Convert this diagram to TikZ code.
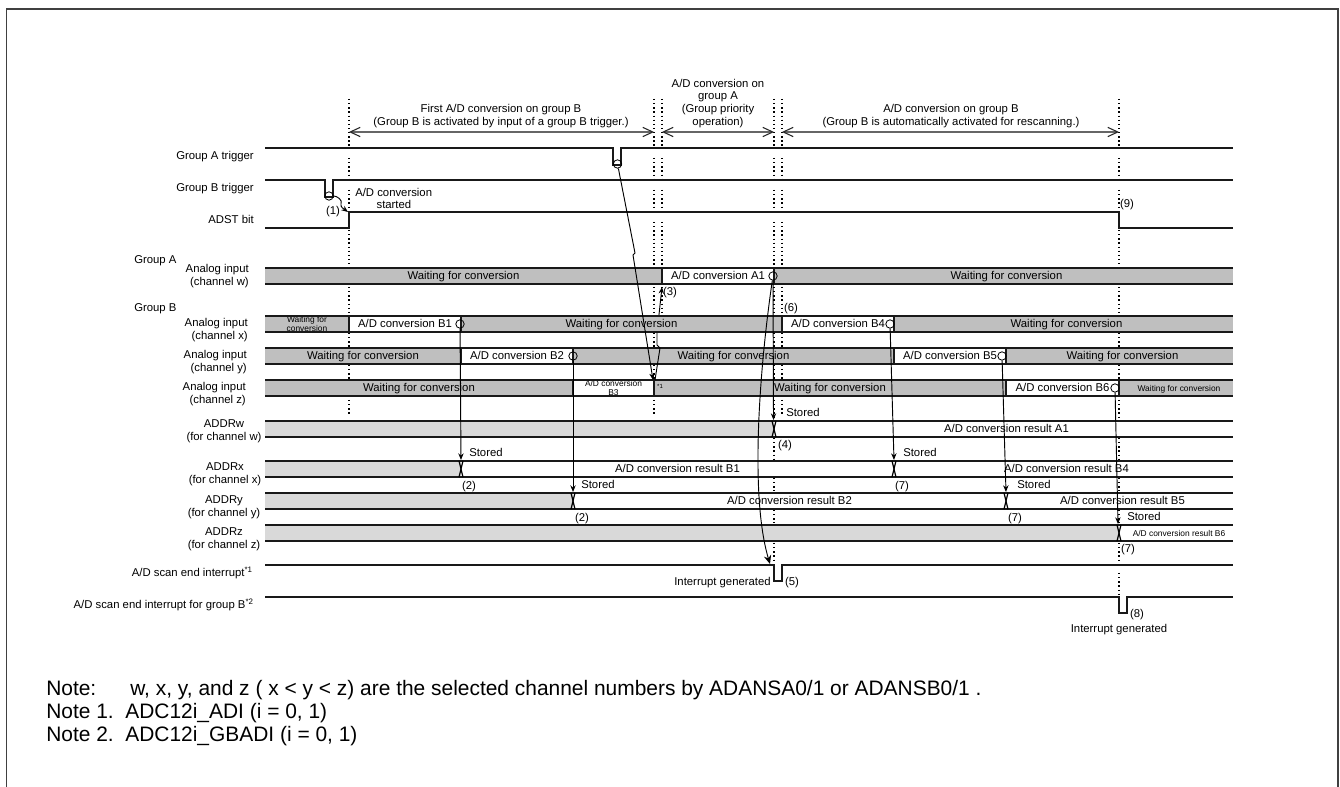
\documentclass[tikz,border=0pt]{standalone}
\usepackage{fontspec}
\setmainfont{Liberation Sans}
\usepackage{xcolor}
\definecolor{waitgray}{HTML}{BFBFBF}
\definecolor{regray}{HTML}{D9D9D9}
\usepackage{tikz}
\usetikzlibrary{positioning,arrows.meta}
\tikzset{
  x=.75pt, y=-.75pt,
  seg/.style  ={minimum width=#1*.75pt},
  rowbox/.style={rectangle, draw=none, minimum height=12.2pt, inner sep=0pt,
                outer sep=0pt, align=center, text height=6.3pt, text depth=1.4pt,
                font=\fontsize{8.5}{9}\selectfont},
  wbox/.style ={rowbox, fill=waitgray},
  cbox/.style ={rowbox, fill=white},
  rbox/.style ={rowbox, fill=regray},
  sig/.style  ={line width=1pt, black!90},
  edge/.style ={line width=1.4pt, black!90},
  dots/.style ={line width=.8pt, dash pattern=on 1pt off 2.1pt},
  arr/.style  ={-{Stealth[length=5pt,width=4pt]}, line width=.7pt},
  arrbig/.style={-{Stealth[length=6.5pt,width=5.5pt]}, line width=.7pt},
  span/.style ={{Straight Barb[length=7.5pt,width=7pt,color=black!85]}-{Straight Barb[length=7.5pt,width=7pt,color=black!85]},
                line width=.8pt, black!60},
  ring/.style ={circle, draw, line width=.6pt, minimum size=6.3pt, inner sep=0pt, fill=none},
  lbl/.style  ={inner sep=0pt, align=center, font=\fontsize{8.5}{9.7}\selectfont},
  lblr/.style ={lbl, align=right, anchor=east},
  lbll/.style ={lbl, anchor=west},
  tinybox/.style={font=\fontsize{6.3}{6.9}\selectfont},
  twoline/.style={tinybox, text height=, text depth=},
  notetext/.style={inner sep=0pt, anchor=base west, font=\fontsize{15.7}{18}\selectfont},
}

\begin{document}
\begin{tikzpicture}
  \useasboundingbox (0,0) rectangle (1340,787);
  % frame, open at the bottom
  \draw[line width=1pt, black!75] (6.5,787) -- (6.5,9) -- (1338,9) -- (1338,787);

  % dotted time marks
  \draw[dots] (349,99) -- (349,147) (349,158) -- (349,179) (349,190) -- (349,210) (349,230) -- (349,267)
              (349,287) -- (349,316) (349,333) -- (349,347) (349,365) -- (349,380) (349,400) -- (349,416);
  \draw[dots] (654,99) -- (654,147) (654,158) -- (654,179) (654,190) -- (654,210) (654,222) -- (654,267)
              (654,287) -- (654,316) (654,333) -- (654,347) (654,365) -- (654,380) (654,400) -- (654,416);
  \draw[dots] (662,99) -- (662,147) (662,158) -- (662,179) (662,190) -- (662,210) (662,222) -- (662,267)
              (662,287) -- (662,316);
  \draw[dots] (774,99) -- (774,147) (774,158) -- (774,179) (774,190) -- (774,210) (774,222) -- (774,267)
              (774,287) -- (774,316) (774,333) -- (774,347) (774,365) -- (774,380) (774,400) -- (774,419)
              (774,438) -- (774,459) (774,478) -- (774,491) (774,510) -- (774,523) (774,543) -- (774,563);
  \draw[dots] (782,99) -- (782,147) (782,158) -- (782,179) (782,190) -- (782,210) (782,222) -- (782,267)
              (782,287) -- (782,316) (782,333) -- (782,347) (782,365) -- (782,380) (782,400) -- (782,416);
  \draw[dots] (1119,99) -- (1119,147) (1119,158) -- (1119,179) (1119,190) -- (1119,210) (1119,230) -- (1119,267)
              (1119,287) -- (1119,316) (1119,333) -- (1119,347) (1119,365) -- (1119,380) (1119,400) -- (1119,419)
              (1119,438) -- (1119,459) (1119,478) -- (1119,491) (1119,510) -- (1119,523) (1119,543) -- (1119,563)
              (1119,573) -- (1119,596);

  % period headings
  \coordinate (p1l) at (349,132);
  \coordinate (p1r) at (654,132);
  \coordinate (p2l) at (662,132);
  \coordinate (p2r) at (774,132);
  \coordinate (p3l) at (782,132);
  \coordinate (p3r) at (1119,132);
  \draw[span] (p1l) -- (p1r);
  \draw[span] (p2l) -- (p2r);
  \draw[span] (p3l) -- (p3r);
  \node[lbl] (h1) at (501,116.5) {First A/D conversion on group B\\(Group B is activated by input of a group B trigger.)};
  \node[lbl] (h2) at (718,103.5) {A/D conversion on\\group A\\(Group priority\\operation)};
  \node[lbl] (h3) at (951,116.5) {A/D conversion on group B\\(Group B is automatically activated for rescanning.)};

  % trigger and ADST levels
  \draw[sig] (265,148) -- (613,148) -- (613,165) -- (621,165) -- (621,148) -- (1233,148);
  \draw[sig] (265,180) -- (325,180) -- (325,197) -- (333,197) -- (333,180) -- (1233,180);
  \draw[sig] (265,228) -- (349,228) -- (349,212) -- (1119,212) -- (1119,228) -- (1233,228);
  \node[lblr] (lAt) at (254,156.5) {Group A trigger};
  \node[lblr] (lBt) at (254,188.5) {Group B trigger};
  \node[lblr] (lAd) at (254,219) {ADST bit};
  \node[lbl, align=left, anchor=north west] (lst) at (355,188) {A/D conversion\\[-1pt]\hspace*{16pt}started};
  \node[lbl] (n1) at (333,212) {(1)};
  \node[lbl] (n9) at (1127,205) {(9)};

  % lead-in of the group A start, runs behind the rows
  \coordinate (a1st) at (662,287);
  \coordinate (jog1) at (660,348);
  \coordinate (jog2) at (657,345);
  \coordinate (jog3) at (657,333);
  \draw[arr] (jog3) -- (a1st);

  % analog input, group A
  \node[lbll] (lGA) at (134,261) {Group A};
  \node[lblr] (lw) at (249,276.5) {Analog input\\(channel w)};
  \node[wbox, seg=397, anchor=west] (w0) at (265,276) {Waiting for conversion};
  \node[cbox, seg=112, right=0mm of w0] (w1) {A/D conversion A1};
  \node[wbox, seg=459, right=0mm of w1] (w2) {\hspace*{4.5pt}Waiting for conversion};

  % analog input, group B
  \node[lbll] (lGB) at (134,309) {Group B};
  \node[lblr] (lx) at (248,330.5) {Analog input\\(channel x)};
  \node[wbox, twoline, seg=84, anchor=west] (x0) at (265,324) {Waiting for\\conversion};
  \node[cbox, seg=112, right=0mm of x0] (x1) {A/D conversion B1};
  \node[wbox, seg=321, right=0mm of x1] (x2) {Waiting for conversion};
  \node[cbox, seg=112, right=0mm of x2] (x3) {A/D conversion B4};
  \node[wbox, seg=339, right=0mm of x3] (x4) {\hspace*{4.5pt}Waiting for conversion};

  \node[lblr] (ly) at (247,362.5) {Analog input\\(channel y)};
  \node[wbox, seg=196, anchor=west] (y0) at (265,356) {Waiting for conversion};
  \node[cbox, seg=112, right=0mm of y0] (y1) {A/D conversion B2};
  \node[wbox, seg=321, right=0mm of y1] (y2) {Waiting for conversion};
  \node[cbox, seg=112, right=0mm of y2] (y3) {A/D conversion B5};
  \node[wbox, seg=227, right=0mm of y3] (y4) {\hspace*{4.5pt}Waiting for conversion};

  \node[lblr] (lz) at (246,394) {Analog input\\(channel z)};
  \node[wbox, seg=308, anchor=west] (z0) at (265,388) {Waiting for conversion};
  \node[cbox, twoline, seg=81, right=0mm of z0] (z1) {A/D conversion\\B3};
  \node[wbox, seg=352, right=0mm of z1] (z2) {Waiting for conversion};
  \node[cbox, seg=113, right=0mm of z2] (z3) {A/D conversion B6};
  \node[wbox, tinybox, seg=114, right=0mm of z3] (z4) {\hspace*{4.5pt}Waiting for conversion};
  \node[inner sep=0pt, font=\fontsize{4.5}{5}\selectfont] (zs) at (660,386) {*1};

  % result registers
  \node[lbl] (la) at (224,431.7) {ADDRw\\(for channel w)};
  \node[rbox, seg=509, anchor=west] (a0) at (265,429) {};
  \node[cbox, seg=459, right=0mm of a0] (a1) {\hspace*{4.5pt}A/D conversion result A1};
  \node[lbl] (lb) at (225,474.2) {ADDRx\\(for channel x)};
  \node[rbox, seg=196, anchor=west] (b0) at (265,469) {};
  \node[cbox, seg=433, right=0mm of b0] (b1) {A/D conversion result B1};
  \node[cbox, seg=339, right=0mm of b1] (b2) {\hspace*{4.5pt}A/D conversion result B4};
  \node[lbl] (lc) at (224,507) {ADDRy\\(for channel y)};
  \node[rbox, seg=308, anchor=west] (c0) at (265,501) {};
  \node[cbox, seg=433, right=0mm of c0] (c1) {A/D conversion result B2};
  \node[cbox, seg=227, right=0mm of c1] (c2) {\hspace*{4.5pt}A/D conversion result B5};
  \node[lbl] (ld) at (224,539.7) {ADDRz\\(for channel z)};
  \node[rbox, seg=854, anchor=west] (d0) at (265,533) {};
  \node[cbox, tinybox, seg=114, right=0mm of d0] (d1) {\hspace*{4.5pt}A/D conversion result B6};

  % row edges
  \foreach \first/\last in {w0/w2,x0/x4,y0/y4,z0/z4,a0/a1,b0/b2,c0/c2,d0/d1}{
    \draw[sig] (\first.north west) -- (\last.north east);
    \draw[sig] (\first.south west) -- (\last.south east);
  }
  \foreach \seg in {w0,w1,x0,x1,x2,x3,y0,y1,y2,y3,z0,z1,z2,z3}
    \draw[edge] (\seg.north east) -- (\seg.south east);

  % value changes of the registers
  \foreach \seg in {a0,b0,b1,c0,c1,d0}{
    \draw[line width=.9pt] ([xshift=-1.5pt]\seg.north east) -- ([xshift=1.5pt]\seg.south east);
    \draw[line width=.9pt] ([xshift=1.5pt]\seg.north east) -- ([xshift=-1.5pt]\seg.south east);
  }

  % interrupt levels
  \draw[sig] (265,565) -- (774,565) -- (774,581) -- (782,581) -- (782,565) -- (1233,565);
  \draw[sig] (265,597) -- (1119,597) -- (1119,613) -- (1127,613) -- (1127,597) -- (1233,597);
  \node[lblr] (li1) at (253,573) {A/D scan end interrupt\textsuperscript{*1}};
  \node[lblr] (li2) at (254,605) {A/D scan end interrupt for group B\textsuperscript{*2}};
  \node[lblr] (ig1) at (771,583) {Interrupt generated};
  \node[lbl] (ig2) at (1119,630) {Interrupt generated};
  \node[lbl] (n5) at (792,582.5) {(5)};
  \node[lbl] (n8) at (1137,614.5) {(8)};

  % event marks
  \node[ring] (rB) at (329,196) {};
  \node[ring] (rA) at (617.5,164) {};
  \node[ring] (r1) at (460,324) {};
  \node[ring] (r2) at (573,356) {};
  \node[ring] (rA1) at (773,276) {};
  \node[ring] (r4) at (890,324) {};
  \node[ring] (r5) at (1002,356) {};
  \node[ring] (r6) at (1115,388) {};

  \coordinate (adst) at (348,212);
  \coordinate (b3end) at (653,380);
  \coordinate (kink1) at (635,253);
  \coordinate (kink2) at (633,255);
  \coordinate (b3go) at (655,380);
  \coordinate (stw) at (773.5,420);
  \coordinate (stx) at (461,460);
  \coordinate (sty) at (573,492);
  \coordinate (stx2) at (894,460);
  \coordinate (sty2) at (1006,492);
  \coordinate (stz) at (1118,524);
  \coordinate (irq) at (770,564);
  \coordinate (wig) at (341,204);

  % transfers
  \draw[arr] (rB.east) .. controls (337,196) and (343,200) .. (wig) .. controls (340,207) and (344,209) .. (adst);
  \draw[arr] (rA) -- (kink1) -- (kink2) -- (b3end);
  \draw[line width=.7pt] (b3go) -- (jog1) -- (jog2) -- (jog3);
  \draw[arr] (r1) -- (stx);
  \draw[arr] (r2) -- (sty);
  \draw[arr] (r4) -- (stx2);
  \draw[arr] (r5) -- (sty2);
  \draw[arr] (r6) -- (stz);
  \draw[arr] (rA1) -- (stw);
  \draw[arrbig] (rA1) .. controls (762,350) and (748,490) .. (irq);

  % stored marks
  \node[lbl] (n3) at (670,292.5) {(3)};
  \node[lbl] (n6) at (791,308.5) {(6)};
  \node[lbll] (s1) at (786,412) {Stored};
  \node[lbl] (n4) at (785,445.5) {(4)};
  \node[lbll] (s2) at (469,452) {Stored};
  \node[lbl] (n2a) at (469,486.5) {(2)};
  \node[lbll] (s3) at (581,484) {Stored};
  \node[lbl] (n2b) at (582,518.5) {(2)};
  \node[lbll] (s4) at (903,452) {Stored};
  \node[lbl] (n7a) at (902,486.5) {(7)};
  \node[lbll] (s5) at (1017,484) {Stored};
  \node[lbl] (n7b) at (1015,518.5) {(7)};
  \node[lbll] (s6) at (1127,516) {Stored};
  \node[lbl] (n7c) at (1128,549.5) {(7)};

  % notes
  \node[notetext] (no0) at (46,696) {Note:};
  \node[notetext] (no1) at (130,696) {w, x, y, and z ( x < y < z) are the selected channel numbers by ADANSA0/1 or ADANSB0/1 .};
  \node[notetext] (no2) at (46,719) {Note 1.\ \ ADC12i\_ADI (i = 0, 1)};
  \node[notetext] (no3) at (46,742) {Note 2.\ \ ADC12i\_GBADI (i = 0, 1)};
\end{tikzpicture}
\end{document}
